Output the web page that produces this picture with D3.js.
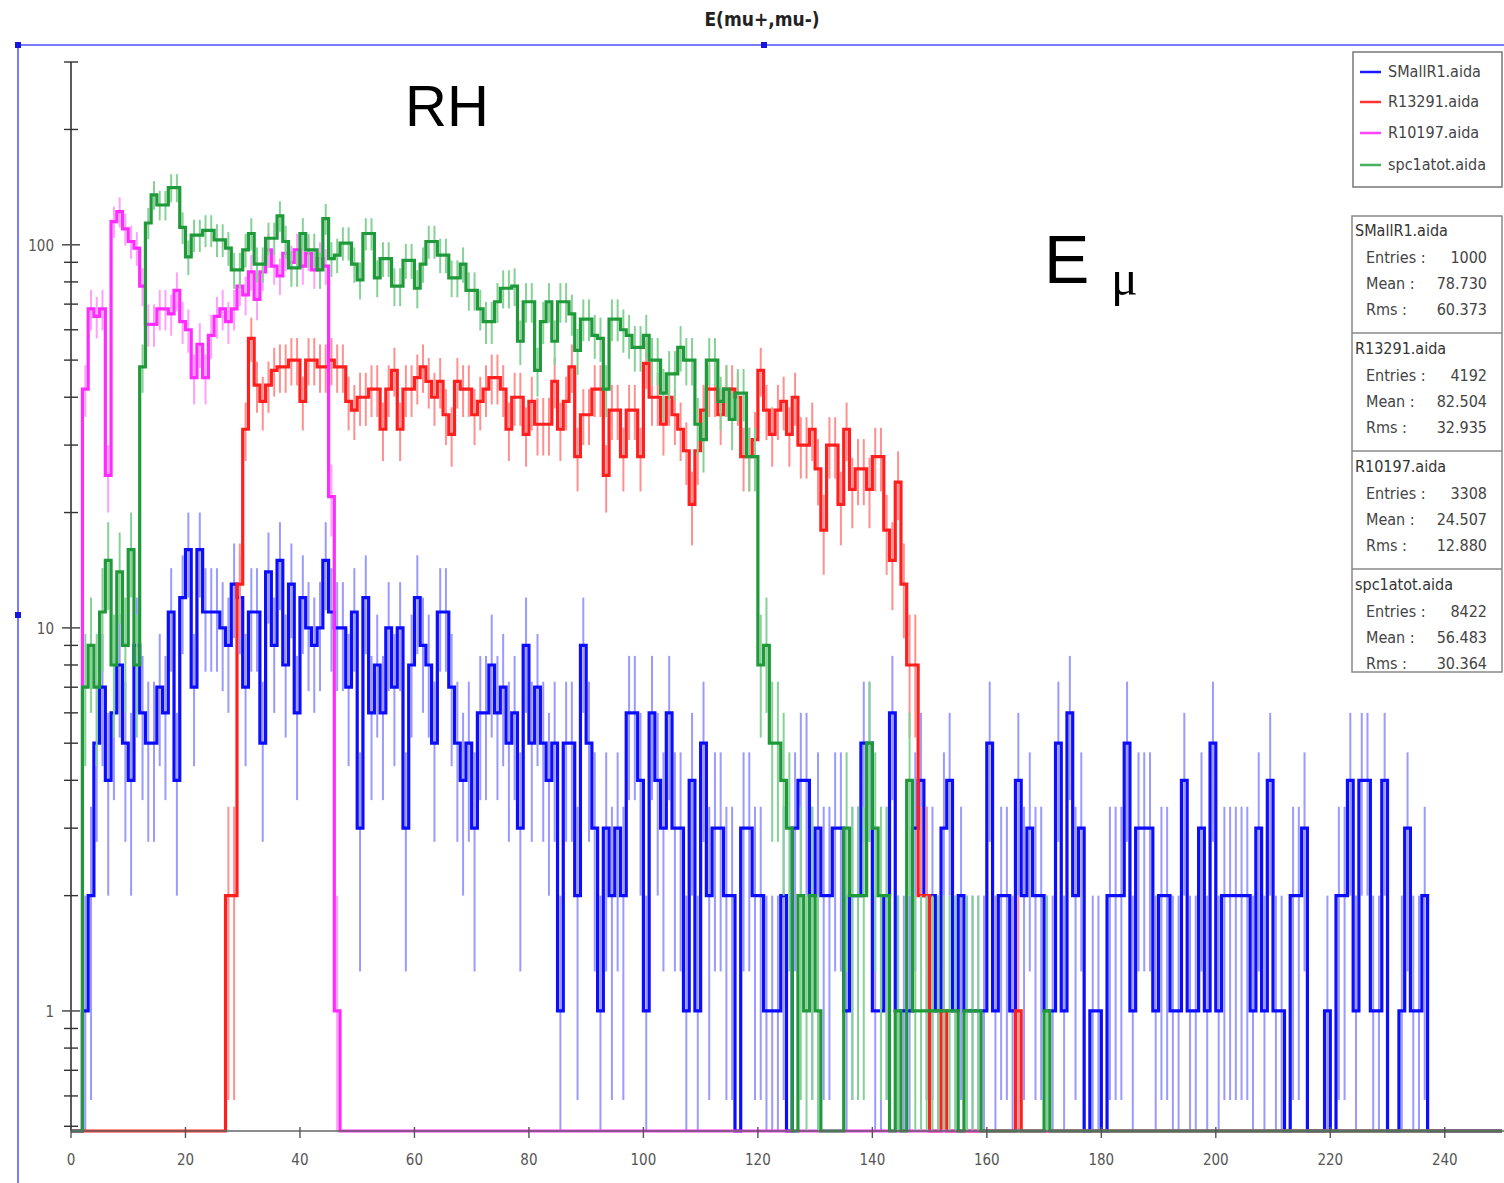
<!DOCTYPE html>
<html><head><meta charset="utf-8">
<script src="https://cdn.jsdelivr.net/npm/d3@7"></script>
<style>body{margin:0;background:#fff;} svg{display:block;}</style>
</head><body>
<svg id="c" width="1504" height="1183"></svg>
<script>
// ---------------- data ----------------
const seriesNames = ["SMallR1.aida", "R13291.aida", "R10197.aida", "spc1atot.aida"];
const legendNames = ["SMallR1.aida", "R13291.aida", "R10197.aida", "spc1atot.aida"];
const statEntries = ["1000", "4192", "3308", "8422"];
const statMean = ["78.730", "82.504", "24.507", "56.483"];
const statRms = ["60.373", "32.935", "12.880", "30.364"];
const xTickValues = [0, 20, 40, 60, 80, 100, 120, 140, 160, 180, 200, 220, 240];
const yLabelValues = [1, 10, 100];
const yMinorValues = [0.5, 0.6, 0.7, 0.8, 0.9, 2, 3, 4, 5, 6, 7, 8, 9, 20, 30, 40, 50, 60, 70, 80, 90, 200, 300];
const xDomain = [0, 250];
const yDomain = [0.486, 300];

// bin contents, one bin per unit from 0 to 250
const smallR1 = [
 0,0,1,2,5,7,4,6,8,5,
 4,9,6,5,5,7,6,11,4,12,
 16,7,16,11,11,11,10,9,13,12,
 7,11,11,5,14,9,15,8,13,6,
 12,10,9,10,15,11,10,10,7,11,
 3,12,6,8,6,10,7,10,3,8,
 12,9,8,5,11,11,7,5,4,5,
 3,6,6,8,6,7,5,6,3,9,
 5,7,5,4,5,1,5,5,2,9,
 5,3,1,3,2,3,2,6,6,4,
 1,6,4,3,6,3,3,1,4,1,
 5,2,3,3,2,2,0,3,3,2,
 2,1,1,1,2,0,3,4,4,2,
 3,2,2,3,3,1,2,2,5,5,
 1,1,2,6,1,1,1,3,4,2,
 2,1,3,4,1,2,1,1,1,1,
 5,1,2,2,1,4,2,3,2,2,
 1,1,5,1,6,2,3,0,1,1,
 0,2,2,2,5,1,3,3,3,1,
 2,2,1,1,4,1,1,3,1,5,
 1,2,2,2,2,2,1,3,1,4,
 1,1,0,2,2,3,0,0,0,1,
 0,2,2,4,1,4,4,1,1,4,
 0,0,1,3,1,1,2,0,0,0,
 0,0,0,0,0,0,0,0,0,0
];
const r13291 = [
 0,0,0,0,0,0,0,0,0,0,
 0,0,0,0,0,0,0,0,0,0,
 0,0,0,0,0,0,0,2,2,13,
 33,57,43,39,43,47,48,48,50,50,
 39,50,50,48,48,50,48,48,39,37,
 40,40,42,42,33,42,47,33,42,42,
 45,48,44,40,44,36,32,44,42,42,
 36,39,42,45,45,42,33,40,40,32,
 39,34,34,34,44,33,39,48,28,36,
 36,42,42,25,37,37,28,37,37,28,
 49,40,40,34,40,36,33,29,21,29,
 37,42,42,36,42,42,40,28,28,31,
 47,37,32,37,39,32,40,30,30,33,
 26,18,30,30,21,33,23,26,26,23,
 28,28,18,15,24,13,8,8,2,2,
 0,0,1,0,0,0,0,0,0,0,
 0,0,0,0,0,1,0,0,0,0,
 0,0,0,0,0,0,0,0,0,0,
 0,0,0,0,0,0,0,0,0,0,
 0,0,0,0,0,0,0,0,0,0,
 0,0,0,0,0,0,0,0,0,0,
 0,0,0,0,0,0,0,0,0,0,
 0,0,0,0,0,0,0,0,0,0,
 0,0,0,0,0,0,0,0,0,0,
 0,0,0,0,0,0,0,0,0,0
];
const r10197 = [
 0,0,42,68,65,68,25,115,122,110,
 102,98,78,62,62,68,68,66,76,63,
 60,45,55,45,58,65,68,63,68,78,
 74,85,72,85,97,88,83,95,90,97,
 88,95,86,92,88,22,1,0,0,0,
 0,0,0,0,0,0,0,0,0,0,
 0,0,0,0,0,0,0,0,0,0,
 0,0,0,0,0,0,0,0,0,0,
 0,0,0,0,0,0,0,0,0,0,
 0,0,0,0,0,0,0,0,0,0,
 0,0,0,0,0,0,0,0,0,0,
 0,0,0,0,0,0,0,0,0,0,
 0,0,0,0,0,0,0,0,0,0,
 0,0,0,0,0,0,0,0,0,0,
 0,0,0,0,0,0,0,0,0,0,
 0,0,0,0,0,0,0,0,0,0,
 0,0,0,0,0,0,0,0,0,0,
 0,0,0,0,0,0,0,0,0,0,
 0,0,0,0,0,0,0,0,0,0,
 0,0,0,0,0,0,0,0,0,0,
 0,0,0,0,0,0,0,0,0,0,
 0,0,0,0,0,0,0,0,0,0,
 0,0,0,0,0,0,0,0,0,0,
 0,0,0,0,0,0,0,0,0,0,
 0,0,0,0,0,0,0,0,0,0
];
const spc1atot = [
 0,0,7,9,7,11,15,8,14,9,
 16,8,48,114,135,127,127,141,141,111,
 93,106,106,109,109,103,103,98,86,86,
 97,107,89,89,104,104,119,102,87,87,
 107,97,97,86,117,92,94,101,101,89,
 81,107,107,82,92,92,78,78,91,91,
 77,89,102,102,94,94,82,82,89,76,
 76,68,63,63,71,77,77,78,56,71,
 71,47,63,71,56,71,71,66,53,64,
 64,58,57,42,64,64,60,58,54,54,
 58,50,50,41,46,46,54,50,50,34,
 31,50,50,39,42,35,41,41,28,28,
 8,9,5,5,4,3,0,2,1,2,
 1,0,0,0,0,3,2,2,2,5,
 3,2,2,0,1,0,4,1,1,1,
 1,1,1,1,1,0,1,1,1,0,
 0,0,0,0,0,0,0,0,0,0,
 1,0,0,0,0,0,0,0,0,0,
 0,0,0,0,0,0,0,0,0,0,
 0,0,0,0,0,0,0,0,0,0,
 0,0,0,0,0,0,0,0,0,0,
 0,0,0,0,0,0,0,0,0,0,
 0,0,0,0,0,0,0,0,0,0,
 0,0,0,0,0,0,0,0,0,0,
 0,0,0,0,0,0,0,0,0,0
];
const allSeries = [smallR1, r13291, r10197, spc1atot];
const lineColors = ["#0c0cff", "#ff1f1f", "#ff2bff", "#1f993a"];
const errColors = ["#9a9aff", "#ff9090", "#ffa0ff", "#86d296"];
const legendColors = ["#1a1aff", "#ff3333", "#ff44ff", "#44b060"];

// ---------------- drawing ----------------
const svg = d3.select("#c");
const W = 1504, H = 1183;
svg.append("rect").attr("width", W).attr("height", H).attr("fill", "#fff");

const x = d3.scaleLinear().domain(xDomain).range([71, 1502]);
const y = d3.scaleLog().domain(yDomain).range([1131, 62]);
const yMin = yDomain[0];
const narrow = "'Liberation Sans Narrow','DejaVu Sans Condensed','Liberation Sans',Arial,sans-serif";

// outer frame (blue)
svg.append("line").attr("x1", 18).attr("x2", W).attr("y1", 45).attr("y2", 45)
  .attr("stroke", "#7b7bff").attr("stroke-width", 2);
svg.append("line").attr("x1", 18).attr("x2", 18).attr("y1", 45).attr("y2", H)
  .attr("stroke", "#7b7bff").attr("stroke-width", 2);
[[18, 45], [764, 45], [18, 615]].forEach(p => {
  svg.append("rect").attr("x", p[0] - 3).attr("y", p[1] - 3).attr("width", 6).attr("height", 6)
    .attr("fill", "#1515e0");
});

// title
svg.append("text").attr("x", 762).attr("y", 26).attr("text-anchor", "middle")
  .attr("font-family", narrow).attr("font-weight", "bold").attr("font-size", 19)
  .attr("fill", "#222").text("E(mu+,mu-)");

// histograms
const plot = svg.append("g");
allSeries.forEach((vals, s) => {
  const g = plot.append("g");
  // error bars
  g.selectAll("line.err").data(vals.map((v, i) => ({ i, v })).filter(d => d.v > 0))
    .join("line").attr("class", "err")
    .attr("x1", d => x(d.i + 0.5)).attr("x2", d => x(d.i + 0.5))
    .attr("y1", d => y(d.v + Math.sqrt(d.v)))
    .attr("y2", d => y(Math.max(d.v - Math.sqrt(d.v), yMin)))
    .attr("stroke", errColors[s]).attr("stroke-width", 2);
  // step outline
  const pts = vals.map((v, i) => ({ i, v }));
  pts.push({ i: vals.length, v: vals[vals.length - 1] });
  const line = d3.line().x(d => x(d.i)).y(d => y(Math.max(d.v, yMin))).curve(d3.curveStepAfter);
  g.append("path").attr("d", line(pts)).attr("fill", "none")
    .attr("stroke", lineColors[s]).attr("stroke-width", 3.2).attr("stroke-linejoin", "miter");
});

// y axis
const yAxisG = svg.append("g");
yAxisG.append("line").attr("x1", 71).attr("x2", 71).attr("y1", 62).attr("y2", 1131)
  .attr("stroke", "#333").attr("stroke-width", 1.6);
yMinorValues.forEach(v => {
  yAxisG.append("line").attr("x1", 64).attr("x2", 78).attr("y1", y(v)).attr("y2", y(v))
    .attr("stroke", "#333").attr("stroke-width", 1.4);
});
yLabelValues.forEach(v => {
  yAxisG.append("line").attr("x1", 62).attr("x2", 80).attr("y1", y(v)).attr("y2", y(v))
    .attr("stroke", "#555").attr("stroke-width", 1.6);
  yAxisG.append("text").attr("x", 54).attr("y", y(v) + 6).attr("text-anchor", "end")
    .attr("font-family", narrow).attr("font-size", 15).attr("fill", "#555").text(String(v));
});

// x axis
const xAxisG = svg.append("g");
xAxisG.append("line").attr("x1", 71).attr("x2", W).attr("y1", 1131).attr("y2", 1131)
  .attr("stroke", "#666").attr("stroke-width", 1.5);
xTickValues.forEach(v => {
  xAxisG.append("line").attr("x1", x(v)).attr("x2", x(v)).attr("y1", 1127).attr("y2", 1138)
    .attr("stroke", "#555").attr("stroke-width", 1.4);
  xAxisG.append("text").attr("x", x(v)).attr("y", 1165).attr("text-anchor", "middle")
    .attr("font-family", narrow).attr("font-size", 15).attr("fill", "#555").text(String(v));
});

// annotations
svg.append("text").attr("x", 405).attr("y", 126)
  .attr("font-family", "'Liberation Sans',Arial,sans-serif").attr("font-size", 58)
  .attr("fill", "#000").text("RH");
svg.append("text").attr("x", 1044).attr("y", 283)
  .attr("font-family", "'Liberation Sans',Arial,sans-serif").attr("font-size", 68)
  .attr("fill", "#000").text("E");
svg.append("text").attr("x", 1111).attr("y", 295)
  .attr("font-family", "'Liberation Serif','Times New Roman',serif").attr("font-size", 50)
  .attr("fill", "#000").text("μ");

// legend
const lg = svg.append("g");
lg.append("rect").attr("x", 1353).attr("y", 52).attr("width", 149).attr("height", 135)
  .attr("fill", "#fff").attr("stroke", "#777").attr("stroke-width", 1.5);
const legendY = [72, 102, 133, 165];
legendNames.forEach((n, i) => {
  lg.append("line").attr("x1", 1360).attr("x2", 1381).attr("y1", legendY[i]).attr("y2", legendY[i])
    .attr("stroke", legendColors[i]).attr("stroke-width", 2.5);
  lg.append("text").attr("x", 1388).attr("y", legendY[i] + 5)
    .attr("font-family", narrow).attr("font-size", 16).attr("fill", "#444").text(n);
});

// statistics boxes
const sg = svg.append("g");
const boxTop = [216, 334, 452, 570];
sg.append("rect").attr("x", 1352).attr("y", 216).attr("width", 150).attr("height", 456)
  .attr("fill", "#fff").attr("stroke", "#888").attr("stroke-width", 1.5);
seriesNames.forEach((n, i) => {
  const t = boxTop[i];
  if (i > 0) sg.append("line").attr("x1", 1352).attr("x2", 1502).attr("y1", t - 1).attr("y2", t - 1)
    .attr("stroke", "#888").attr("stroke-width", 1.5);
  sg.append("text").attr("x", 1355).attr("y", t + 20).attr("font-family", narrow)
    .attr("font-size", 16).attr("fill", "#333").text(n);
  const rows = [["Entries :", statEntries[i]], ["Mean :", statMean[i]], ["Rms :", statRms[i]]];
  rows.forEach((r, k) => {
    const yy = t + 47 + k * 26;
    sg.append("text").attr("x", 1366).attr("y", yy).attr("font-family", narrow)
      .attr("font-size", 16).attr("fill", "#444").text(r[0]);
    sg.append("text").attr("x", 1487).attr("y", yy).attr("text-anchor", "end").attr("font-family", narrow)
      .attr("font-size", 16).attr("fill", "#444").text(r[1]);
  });
});
</script>
</body></html>
